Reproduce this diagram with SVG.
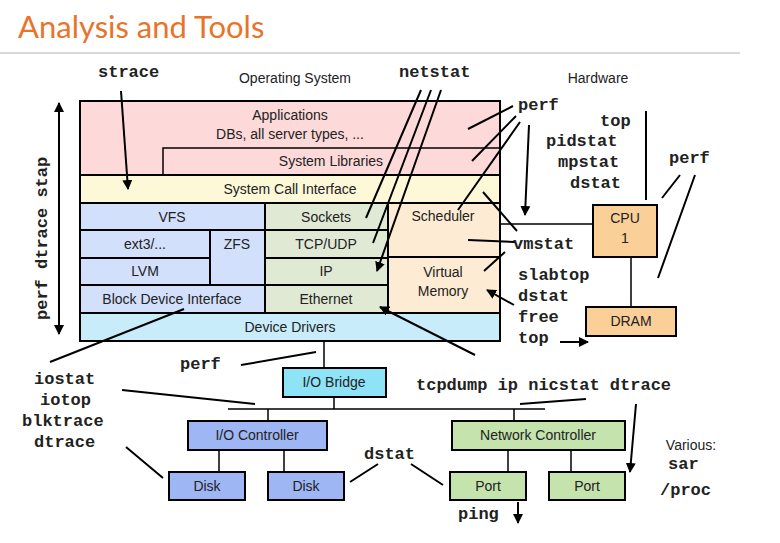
<svg xmlns="http://www.w3.org/2000/svg" width="780" height="543" viewBox="0 0 780 543">
<style>
.b{stroke:#000;stroke-width:2}
.t{font-family:"Liberation Sans",Arial,sans-serif;font-size:14px;fill:#222;text-anchor:middle}
.m{font-family:"Liberation Mono","Courier New",monospace;font-size:17px;font-weight:bold;fill:#222}
.a{stroke:#000;stroke-width:2;fill:none;marker-end:url(#ah)}
.l{stroke:#000;stroke-width:1.5;fill:none}
</style>
<defs><marker id="ah" viewBox="0 0 10 10" refX="9" refY="5" markerWidth="5" markerHeight="5" orient="auto-start-reverse"><path d="M0,0L10,5L0,10z"/></marker></defs>
<rect width="780" height="543" fill="#fff"/>
<text x="18" y="38" font-family="Lato,'Liberation Sans',sans-serif" font-size="31" fill="#e8742a">Analysis and Tools</text>
<line x1="0" y1="53" x2="740" y2="53" stroke="#ccc" stroke-width="1.5"/>
<text x="295" y="83" class="t" font-size="16">Operating System</text>
<text x="598" y="83" class="t" font-size="15">Hardware</text>
<g id="stack">
<rect x="80" y="101" width="420" height="74" fill="#fdd9d9" class="b"/>
<text x="290" y="120" class="t">Applications</text>
<text x="290" y="139" class="t">DBs, all server types, ...</text>
<path d="M163,175V148H500" class="l"/>
<text x="331" y="166" class="t">System Libraries</text>
<rect x="80" y="175" width="420" height="28" fill="#fdf8d8" class="b"/>
<text x="290" y="194" class="t">System Call Interface</text>
<rect x="80" y="203" width="185" height="27" fill="#d3e0fb" class="b"/><text x="172" y="222" class="t">VFS</text>
<rect x="80" y="230" width="130" height="28" fill="#d3e0fb" class="b"/><text x="145" y="249" class="t">ext3/...</text>
<rect x="210" y="230" width="55" height="55" fill="#d3e0fb" class="b"/><text x="237" y="249" class="t">ZFS</text>
<rect x="80" y="258" width="130" height="27" fill="#d3e0fb" class="b"/><text x="145" y="276" class="t">LVM</text>
<rect x="80" y="285" width="185" height="28" fill="#d3e0fb" class="b"/><text x="172" y="304" class="t">Block Device Interface</text>
<rect x="265" y="203" width="123" height="27" fill="#dfe9d4" class="b"/><text x="326" y="222" class="t">Sockets</text>
<rect x="265" y="230" width="123" height="28" fill="#dfe9d4" class="b"/><text x="326" y="249" class="t">TCP/UDP</text>
<rect x="265" y="258" width="123" height="27" fill="#dfe9d4" class="b"/><text x="326" y="276" class="t">IP</text>
<rect x="265" y="285" width="123" height="28" fill="#dfe9d4" class="b"/><text x="326" y="304" class="t">Ethernet</text>
<rect x="388" y="203" width="112" height="54" fill="#fdebd3" class="b"/><text x="443" y="221" class="t">Scheduler</text>
<rect x="388" y="257" width="112" height="56" fill="#fdebd3" class="b"/><text x="443" y="277" class="t">Virtual</text><text x="443" y="296" class="t">Memory</text>
<rect x="80" y="313" width="420" height="28" fill="#c8ecfa" class="b"/><text x="290" y="332" class="t">Device Drivers</text>
</g>
<g id="hw">
<rect x="593" y="205" width="64" height="52" fill="#fbcf98" class="b"/><text x="625" y="223" class="t">CPU</text><text x="625" y="243" class="t">1</text>
<rect x="586" y="307" width="90" height="29" fill="#fbcf98" class="b"/><text x="631" y="326" class="t">DRAM</text>
<rect x="283" y="368" width="103" height="29" fill="#8fe3f7" class="b"/><text x="334" y="387" class="t">I/O Bridge</text>
<rect x="188" y="421" width="139" height="29" fill="#9fb6f4" class="b"/><text x="257" y="440" class="t">I/O Controller</text>
<rect x="452" y="421" width="173" height="29" fill="#c4e3ad" class="b"/><text x="538" y="440" class="t">Network Controller</text>
<rect x="169" y="472" width="76" height="28" fill="#9fb6f4" class="b"/><text x="207" y="491" class="t">Disk</text>
<rect x="268" y="472" width="76" height="28" fill="#9fb6f4" class="b"/><text x="306" y="491" class="t">Disk</text>
<rect x="450" y="472" width="76" height="28" fill="#c4e3ad" class="b"/><text x="488" y="491" class="t">Port</text>
<rect x="549" y="472" width="76" height="28" fill="#c4e3ad" class="b"/><text x="587" y="491" class="t">Port</text>
</g>
<g id="connectors">
<path d="M500,224H593M631,257V307M324,341V368M334,397V409M228,409H545M268,409V421M514,409V421M219,450V472M284,450V472M508,450V472M571,450V472" class="l"/>
<path d="M59,103V334" class="a" marker-start="url(#ah)"/>
<path d="M121,91L128,189" class="a"/>
<path d="M421,90L366,218M431,90L373,243M441,90L377,271" class="a"/>
<path d="M513,106L468,129M516,116L472,161M520,122L458,210M529,125L525,215" class="a"/>
<path d="M517,231L483,192M515,242L468,240M505,252L484,271M514,305L487,290" class="a"/>
<path d="M646,111L646,200M680,175L662,198M695,175L658,278M560,342L588,342" class="a"/>
<path d="M50,362L184,309M475,355L380,307" class="a"/>
<path d="M241,365L316,352M122,390L255,404M586,399L520,404M636,404L630,472" class="a"/>
<path d="M126,447L163,478M378,464L350,482M411,464L443,485M518,502V523" class="a"/>
</g>
<g id="labels" class="m">
<text x="98" y="77">strace</text>
<text x="399" y="77">netstat</text>
<text x="518" y="110">perf</text>
<text x="600" y="126">top</text>
<text x="546" y="146">pidstat</text>
<text x="558" y="167">mpstat</text>
<text x="570" y="188">dstat</text>
<text x="669" y="163">perf</text>
<text x="513" y="249">vmstat</text>
<text x="518" y="280">slabtop</text>
<text x="518" y="301">dstat</text>
<text x="518" y="322">free</text>
<text x="518" y="343">top</text>
<text x="180" y="369">perf</text>
<text x="34" y="384">iostat</text>
<text x="40" y="405">iotop</text>
<text x="22" y="426">blktrace</text>
<text x="34" y="447">dtrace</text>
<text x="416" y="390">tcpdump ip nicstat dtrace</text>
<text x="364" y="459">dstat</text>
<text x="458" y="519">ping</text>
<text x="668" y="469">sar</text>
<text x="660" y="495">/proc</text>
<text transform="translate(47,320) rotate(-90)">perf dtrace stap</text>
</g>
<text x="691" y="450" class="t" font-size="16">Various:</text>
</svg>
